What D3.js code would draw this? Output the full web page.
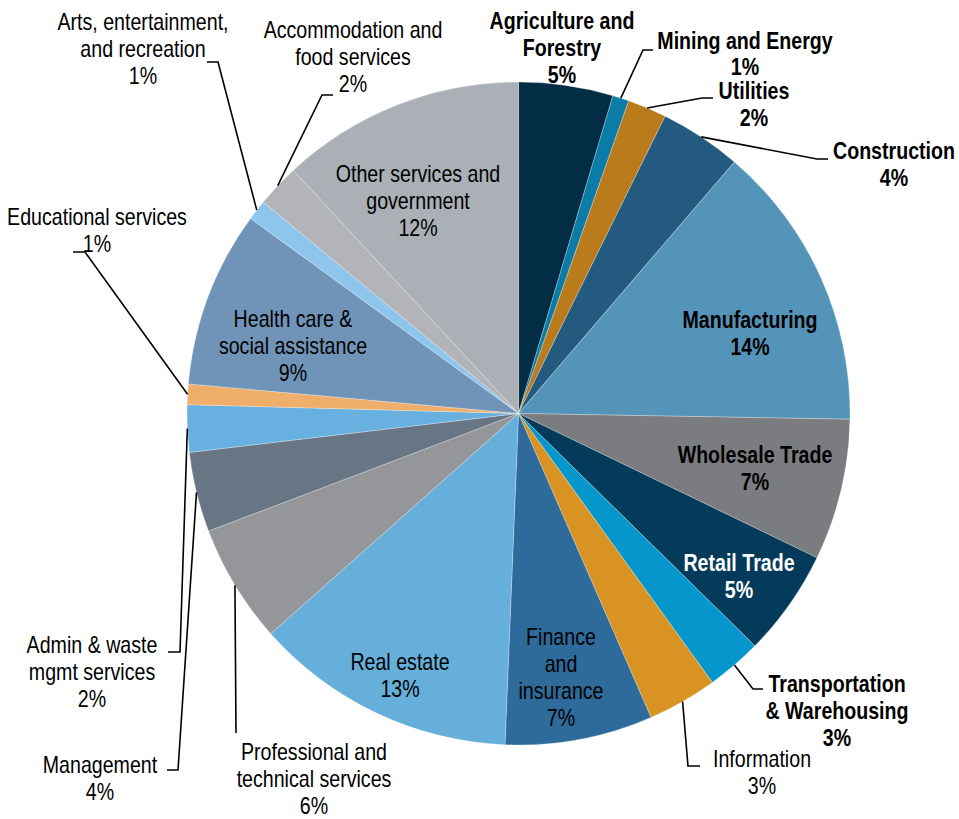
<!DOCTYPE html>
<html>
<head>
<meta charset="utf-8">
<script src="https://cdn.jsdelivr.net/npm/d3@7/dist/d3.min.js"></script>
<style>
  html, body { margin: 0; padding: 0; background: #ffffff; }
  svg { display: block; }
  text { font-family: "Liberation Sans", Arial, sans-serif; }
</style>
</head>
<body>
<svg id="chart" width="959" height="819"></svg>
<script>
// ---- data ----
const categories = [
  "Agriculture and\nForestry",
  "Mining and Energy",
  "Utilities",
  "Construction",
  "Manufacturing",
  "Wholesale Trade",
  "Retail Trade",
  "Transportation\n& Warehousing",
  "Information",
  "Finance\nand\ninsurance",
  "Real estate",
  "Professional and\ntechnical services",
  "Management",
  "Admin & waste\nmgmt services",
  "Educational services",
  "Health care &\nsocial assistance",
  "Arts, entertainment,\nand recreation",
  "Accommodation and\nfood services",
  "Other services and\ngovernment"
];
const values = [4.6, 0.8, 1.9, 4.0, 14.0, 6.9, 5.2, 2.7, 3.4, 7.2, 12.8, 5.8, 3.9, 2.3, 1.0, 8.6, 1.0, 2.1, 11.9];
const colors = ["#032d45", "#0b7ba8", "#b97b1b", "#245a80", "#5594b9", "#7b7c80", "#043a5a", "#0596cb", "#d99322",
                "#2e6b9a", "#66afdb", "#95969a", "#687585", "#68b0e0", "#efae6a", "#7094b8", "#8ec5ec", "#b3b4b7", "#abb0b7"];
const boldLabel = [true, true, true, true, true, true, true, true, false, false, false, false, false, false, false, false, false, false, false];
const textColor = ["#000", "#000", "#000", "#000", "#000", "#000", "#fff", "#000", "#000", "#000", "#000", "#000", "#000", "#000", "#000", "#000", "#000", "#000", "#000"];

// ---- layout ----
const cx = 518.5, cy = 413.5, R = 331.5;
const fontSize = 23, lineH = 27, narrow = 0.853;
const labelPos = [
  [562, 29], [745, 49], [754, 99], [894, 159], [750, 328], [755, 463], [739, 571], [837, 692],
  [762, 767], [561, 645], [400, 670], [314, 760], [100, 773], [92, 653], [97, 225], [293, 327],
  [143, 30], [353, 38], [418, 182]
];
const leaders = {
  1: [[643, 50], [653, 50]],
  2: [[702, 98], [713, 98]],
  3: [[817, 159], [828, 159]],
  7: [[753, 689], [763, 689]],
  8: [[688, 766], [700, 766]],
  11: [[236, 733]],
  12: [[178, 770], [167, 770]],
  13: [[180, 652], [168, 652]],
  14: [[85, 252], [73, 252]],
  16: [[218, 62], [207, 62]],
  17: [[322, 95], [333, 95]]
};

const svg = d3.select("#chart");
const g = svg.append("g").attr("transform", `translate(${cx},${cy})`);

const pie = d3.pie().sort(null).value(d => d.v);
const arcs = pie(values.map((v, i) => ({ v, i })));
const arc = d3.arc().innerRadius(0).outerRadius(R);
const edge = d3.arc().innerRadius(R).outerRadius(R);

g.selectAll("path.slice")
  .data(arcs)
  .enter().append("path")
  .attr("class", "slice")
  .attr("d", arc)
  .attr("fill", d => colors[d.data.i])
  .attr("stroke", "rgba(255,255,255,0.45)")
  .attr("stroke-width", 0.6);

// leader lines
const line = d3.line();
arcs.forEach(d => {
  const i = d.data.i;
  if (!leaders[i]) return;
  const c = edge.centroid(d);
  const start = [cx + c[0], cy + c[1]];
  svg.append("path")
    .attr("d", line([start, ...leaders[i]]))
    .attr("fill", "none")
    .attr("stroke", "#000")
    .attr("stroke-width", 1.6);
});

// labels (Arial-metric font, horizontally condensed like Arial Narrow)
arcs.forEach(d => {
  const i = d.data.i;
  const lines = categories[i].split("\n");
  lines.push(Math.round(values[i]) + "%");
  const t = svg.append("text")
    .attr("transform", `translate(${labelPos[i][0]},${labelPos[i][1]}) scale(${narrow},1)`)
    .attr("text-anchor", "middle")
    .attr("font-size", fontSize)
    .attr("font-weight", boldLabel[i] ? "bold" : "normal")
    .attr("fill", textColor[i]);
  lines.forEach((s, k) => {
    t.append("tspan")
      .attr("x", 0)
      .attr("y", k * (i === 1 ? 26 : lineH))
      .text(s);
  });
});
</script>
</body>
</html>
